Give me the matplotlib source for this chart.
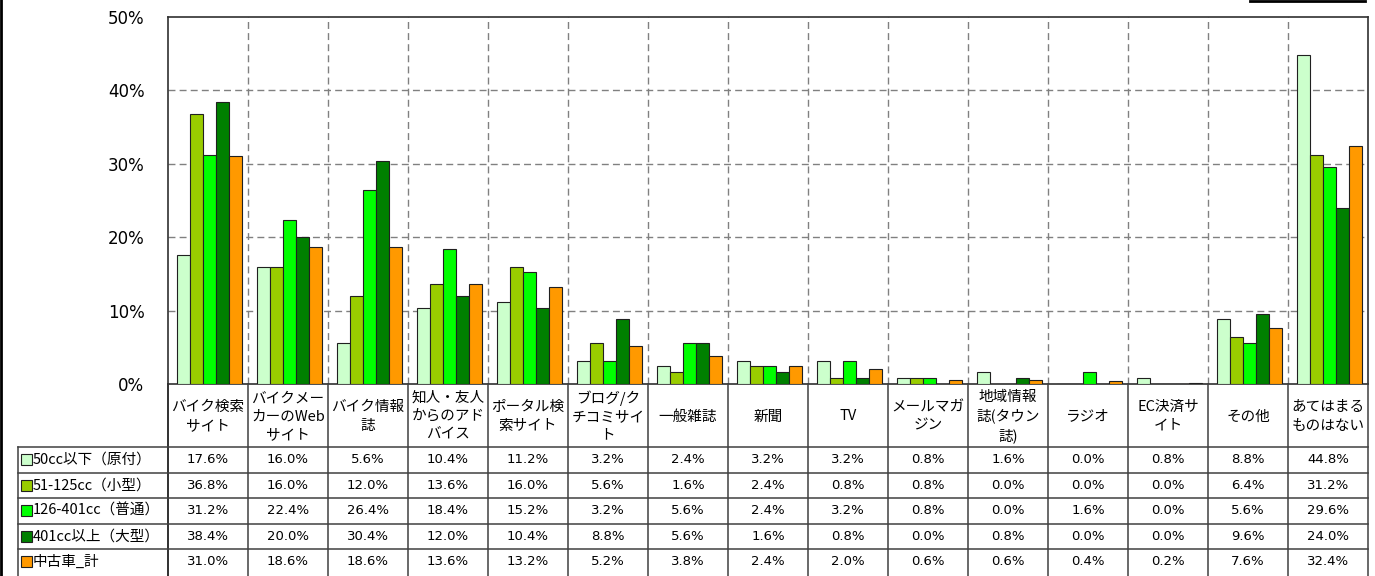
import numpy as np
import matplotlib
matplotlib.use("Agg")
import matplotlib.pyplot as plt
from matplotlib.lines import Line2D
from matplotlib.patches import Rectangle

plt.rcParams['font.family'] = ['Noto Sans CJK JP', 'DejaVu Sans']

# カテゴリ（表の見出し、改行込み）
categories = ["バイク検索\nサイト", "バイクメー\nカーのWeb\nサイト", "バイク情報\n誌",
              "知人・友人\nからのアド\nバイス", "ポータル検\n索サイト", "ブログ/ク\nチコミサイ\nト",
              "一般雑誌", "新聞", "TV", "メールマガ\nジン", "地域情報\n誌(タウン\n誌)",
              "ラジオ", "EC決済サ\nイト", "その他", "あてはまる\nものはない"]

series_names = ["50cc以下（原付）", "51-125cc（小型）", "126-401cc（普通）",
                "401cc以上（大型）", "中古車_計"]

cc50 = [17.6, 16.0, 5.6, 10.4, 11.2, 3.2, 2.4, 3.2, 3.2, 0.8, 1.6, 0.0, 0.8, 8.8, 44.8]
cc125 = [36.8, 16.0, 12.0, 13.6, 16.0, 5.6, 1.6, 2.4, 0.8, 0.8, 0.0, 0.0, 0.0, 6.4, 31.2]
cc401 = [31.2, 22.4, 26.4, 18.4, 15.2, 3.2, 5.6, 2.4, 3.2, 0.8, 0.0, 1.6, 0.0, 5.6, 29.6]
cc_big = [38.4, 20.0, 30.4, 12.0, 10.4, 8.8, 5.6, 1.6, 0.8, 0.0, 0.8, 0.0, 0.0, 9.6, 24.0]
used_total = [31.0, 18.6, 18.6, 13.6, 13.2, 5.2, 3.8, 2.4, 2.0, 0.6, 0.6, 0.4, 0.2, 7.6, 32.4]

series = [cc50, cc125, cc401, cc_big, used_total]
colors = ["#CCFFCC", "#99CC00", "#00FF00", "#008000", "#FF9900"]

W, H = 1375, 576
fig = plt.figure(figsize=(W / 100, H / 100), dpi=100)

# ---- bar chart ----
ax = fig.add_axes([168 / W, (H - 384) / H, 1200 / W, (384 - 17) / H])
n = len(categories)
bw = 13 / 80
start = 9 / 80
x = np.arange(n)
for j, (vals, c) in enumerate(zip(series, colors)):
    ax.bar(x + start + (j + 0.5) * bw, vals, width=bw, color=c,
           edgecolor="#202020", linewidth=0.8, zorder=3)

ax.set_xlim(0, n)
ax.set_ylim(0, 50)
ax.set_yticks(range(0, 51, 10))
ax.set_yticklabels([f"{v}%" for v in range(0, 51, 10)], fontsize=12, family="DejaVu Sans")
ax.tick_params(axis="y", length=0, pad=17)
ax.set_xticks([])
for v in range(10, 50, 10):
    ax.axhline(v, color="#808080", lw=1, ls=(0, (5, 3)), zorder=1)
for i in range(1, n):
    ax.axvline(i, color="#808080", lw=1, ls=(0, (5, 3)), zorder=1)
for s in ax.spines.values():
    s.set_color("#303030")
    s.set_linewidth(1.2)

# ---- data table ----
tab = fig.add_axes([18 / W, 0, 1350 / W, 192 / H])
left = -150 / 80
tab.set_xlim(left, n)
tab.set_ylim(192, 0)
tab.axis("off")
hdr = 63
rh = 25.5
line_kw = dict(color="#404040", lw=1.1, clip_on=False)
for i in range(1, n + 1):
    tab.plot([i, i], [0, 192], **line_kw)
tab.plot([0, 0], [0, 192], color="#303030", lw=1.4, clip_on=False)
tab.plot([left, left], [hdr, 192], **line_kw)
for r in range(5):
    tab.plot([left, n], [hdr + r * rh, hdr + r * rh], **line_kw)

for i, lab in enumerate(categories):
    tab.text(i + 0.5, hdr / 2 + 1, lab, ha="center", va="center", fontsize=10.5,
             linespacing=1.4)

for r, (name, vals, c) in enumerate(zip(series_names, series, colors)):
    yc = hdr + (r + 0.5) * rh
    tab.add_patch(Rectangle((left + 3 / 80, yc - 5.5), 11 / 80, 11, facecolor=c,
                            edgecolor="#202020", lw=0.8, clip_on=False))
    tab.text(left + 15 / 80, yc, name, ha="left", va="center", fontsize=10.5)
    for i, v in enumerate(vals):
        tab.text(i + 0.5, yc, f"{v:.1f}%", ha="center", va="center", fontsize=9.5,
                 family="DejaVu Sans")

# frame pieces at the image edges
fig.add_artist(Line2D([1 / W, 1 / W], [0, 1], color="black", lw=2))
fig.add_artist(Line2D([1250 / W, 1365 / W], [1 - 1 / H, 1 - 1 / H], color="black", lw=2))

fig.savefig("out.png", dpi=100)
